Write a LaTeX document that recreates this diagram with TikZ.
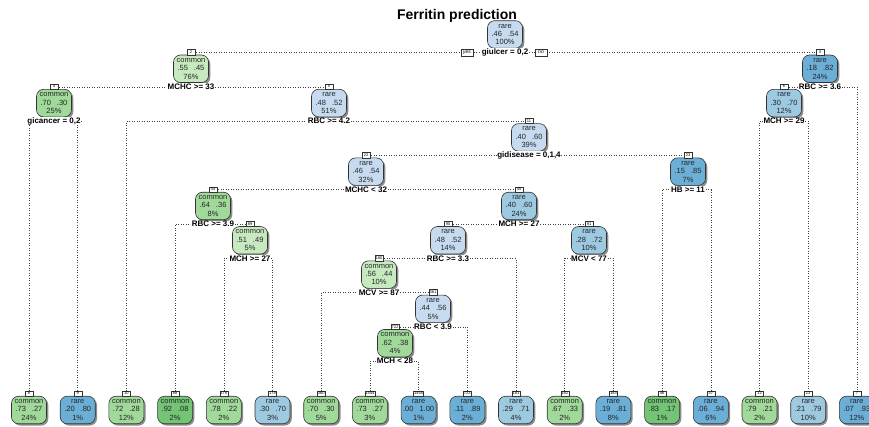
\documentclass[tikz,border=0pt]{standalone}
\usepackage{fontspec}
\setmainfont{Liberation Sans}
\usetikzlibrary{positioning,shadows,backgrounds}
\definecolor{gnA}{HTML}{C7E9C0}
\definecolor{gnB}{HTML}{A1D99B}
\definecolor{gnC}{HTML}{74C476}
\definecolor{buA}{HTML}{C6DBEF}
\definecolor{buB}{HTML}{9ECAE1}
\definecolor{buC}{HTML}{6BAED6}

\begin{document}
\begin{tikzpicture}[x=1pt,y=-1pt,
	treenode/.style={
		draw=black!80, line width=0.6pt, rounded corners=7pt,
		minimum width=35pt, minimum height=27.5pt, inner sep=0pt,
		align=center, text=black!85,
		font=\fontsize{7.5}{8.4}\selectfont,
		drop shadow={shadow xshift=1.8pt, shadow yshift=-1.8pt, fill=black!45, opacity=1}
	},
	numbox/.style={
		draw=black!80, fill=white, line width=0.4pt, inner sep=0.6pt,
		minimum width=8pt, minimum height=5.5pt,
		font=\fontsize{4}{4.5}\selectfont
	},
	yesno/.style={numbox, minimum width=12pt, minimum height=6.5pt, font=\fontsize{5}{5.5}\selectfont\itshape},
	splitlabel/.style={fill=white, inner sep=0.6pt, font=\fontsize{8}{9}\selectfont\bfseries},
	branch/.style={black!75, line width=0.5pt, dotted}
]
	\useasboundingbox (0,0) rectangle (869,427);

	% internal nodes: name/x/depth/fill/class/p1/p2/percent/split
	\foreach \nm/\xx/\dep/\cc/\cls/\pa/\pb/\pc/\splt in {
		1/505/0/buA/rare/.46/.54/100/{giulcer = 0,2},
		2/191/1/gnA/common/.55/.45/76/{MCHC >= 33},
		3/820/1/buC/rare/.18/.82/24/{RBC >= 3.6},
		4/54/2/gnB/common/.70/.30/25/{gicancer = 0,2},
		5/329/2/buA/rare/.48/.52/51/{RBC >= 4.2},
		6/784/2/buB/rare/.30/.70/12/{MCH >= 29},
		11/529/3/buA/rare/.40/.60/39/{gidisease = 0,1,4},
		22/366/4/buA/rare/.46/.54/32/{MCHC < 32},
		23/688/4/buC/rare/.15/.85/7/{HB >= 11},
		44/213/5/gnB/common/.64/.36/8/{RBC >= 3.9},
		45/519/5/buB/rare/.40/.60/24/{MCH >= 27},
		89/250/6/gnA/common/.51/.49/5/{MCH >= 27},
		90/448/6/buA/rare/.48/.52/14/{RBC >= 3.3},
		91/589/6/buB/rare/.28/.72/10/{MCV < 77},
		180/379/7/gnA/common/.56/.44/10/{MCV >= 87},
		361/433/8/buA/rare/.44/.56/5/{RBC < 3.9},
		722/395/9/gnB/common/.62/.38/4/{MCH < 28}}{
		\node[treenode, fill=\cc] (n\nm) at (\xx,{34.5+34.3*\dep}) {\cls\\\pa\hspace{6pt}\pb\\\pc\%};
		\node[splitlabel] (s\nm) at (\xx,{52.5+34.3*\dep}) {\splt};
	}

	% leaves, left to right
	\foreach \nm/\k/\cc/\cls/\pa/\pb/\pc in {
		8/0/gnB/common/.73/.27/24, 9/1/buC/rare/.20/.80/1,
		10/2/gnB/common/.72/.28/12, 88/3/gnC/common/.92/.08/2,
		178/4/gnB/common/.78/.22/2, 179/5/buB/rare/.30/.70/3,
		360/6/gnB/common/.70/.30/5, 1444/7/gnB/common/.73/.27/3,
		1445/8/buC/rare/.00/1.00/1, 723/9/buC/rare/.11/.89/2,
		181/10/buB/rare/.29/.71/4, 182/11/gnB/common/.67/.33/2,
		183/12/buC/rare/.19/.81/8, 46/13/gnC/common/.83/.17/1,
		47/14/buC/rare/.06/.94/6, 12/15/gnB/common/.79/.21/2,
		13/16/buB/rare/.21/.79/10, 7/17/buC/rare/.07/.93/12}{
		\node[treenode, fill=\cc] (n\nm) at ({29+48.7*\k},410) {\cls\\\pa\hspace{6pt}\pb\\\pc\%};
	}

	\foreach \nm in {2,3,4,5,6,7,8,9,10,11,12,13,22,23,44,45,46,47,88,89,90,91,
		178,179,180,181,182,183,360,361,722,723,1444,1445}
		\node[numbox, above=-0.5pt of n\nm] (b\nm) {\nm};

	\node[yesno] (yes) at (467,52.5) {yes};
	\node[yesno] (no) at (541,52.5) {no};

	\begin{scope}[on background layer]
	\foreach \p/\l/\r in {1/2/3, 2/4/5, 3/6/7, 4/8/9, 5/10/11, 6/12/13, 11/22/23,
		22/44/45, 23/46/47, 44/88/89, 45/90/91, 89/178/179, 90/180/181,
		91/182/183, 180/360/361, 361/722/723, 722/1444/1445}
		\draw[branch] (n\l.north) |- (s\p.west) (s\p.east) -| (n\r.north);
	\end{scope}

	\node[font=\fontsize{14}{16}\selectfont\bfseries] (title) at (457,16) {Ferritin prediction};
\end{tikzpicture}
\end{document}
